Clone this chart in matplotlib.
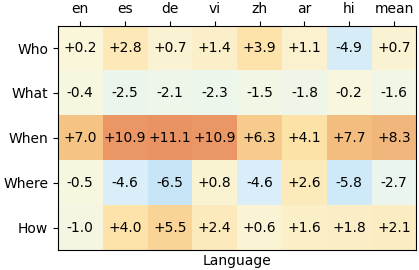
import numpy as np
import matplotlib
matplotlib.use("Agg")
import matplotlib.pyplot as plt
from matplotlib.colors import LinearSegmentedColormap

langs = ["en", "es", "de", "vi", "zh", "ar", "hi", "mean"]
questions = ["Who", "What", "When", "Where", "How"]
who = [0.2, 2.8, 0.7, 1.4, 3.9, 1.1, -4.9, 0.7]
what = [-0.4, -2.5, -2.1, -2.3, -1.5, -1.8, -0.2, -1.6]
when = [7.0, 10.9, 11.1, 10.9, 6.3, 4.1, 7.7, 8.3]
where = [-0.5, -4.6, -6.5, 0.8, -4.6, 2.6, -5.8, -2.7]
how = [-1.0, 4.0, 5.5, 2.4, 0.6, 1.6, 1.8, 2.1]

vals = np.array([who, what, when, where, how])

# pale diverging map (blue -> cream -> orange), anchors picked by eye
VMIN, VMAX = -8, 12
nodes = [(-8, (185, 222, 245)), (-6.5, (200, 230, 248)), (-4.6, (218, 239, 249)),
         (-2.5, (237, 246, 236)), (0, (250, 247, 220)), (2.8, (253, 233, 185)),
         (4.1, (253, 226, 168)), (6.3, (248, 204, 140)), (8.3, (242, 183, 124)),
         (11.1, (234, 148, 100)), (12, (230, 138, 92))]
cmap = LinearSegmentedColormap.from_list(
    "pale", [((v - VMIN) / (VMAX - VMIN), tuple(c / 255 for c in rgb)) for v, rgb in nodes])

fig = plt.figure(figsize=(4.19, 2.70), dpi=100)
ax = fig.add_axes([0.138, 0.074, 0.856, 0.831])
ax.imshow(vals, cmap=cmap, vmin=VMIN, vmax=VMAX, aspect="auto")
for i in range(vals.shape[0]):
    for j in range(vals.shape[1]):
        ax.text(j, i, f"{vals[i, j]:+.1f}", ha="center", va="center", fontsize=10)

ax.set_xticks(range(len(langs)))
ax.set_xticklabels(langs, fontsize=10)
ax.set_yticks(range(len(questions)))
ax.set_yticklabels(questions, fontsize=10)
ax.xaxis.tick_top()
ax.xaxis.set_label_position("bottom")
ax.set_xlabel("Language", fontsize=10, labelpad=3)

fig.savefig("out.png", dpi=100)
